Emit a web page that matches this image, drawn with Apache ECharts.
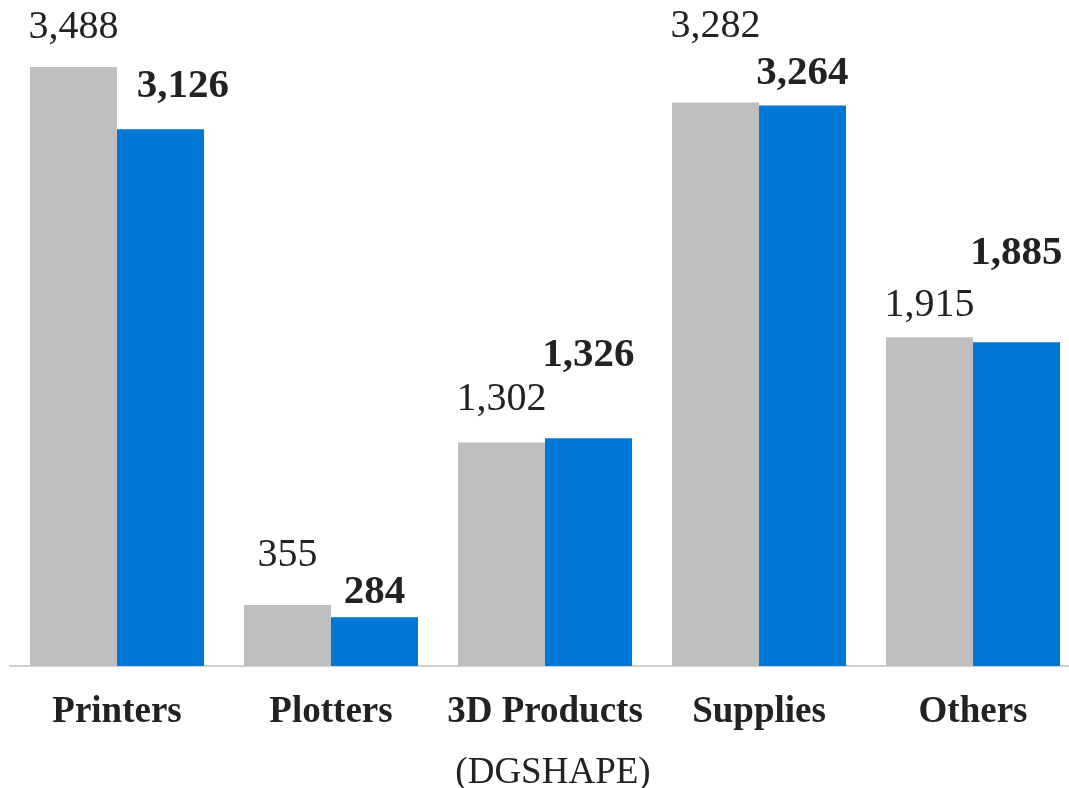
<!DOCTYPE html>
<html>
<head>
<meta charset="utf-8">
<script src="https://cdn.jsdelivr.net/npm/echarts@6/dist/echarts.min.js"></script>
<style>
html,body{margin:0;padding:0;background:#fff;}
#chart{width:1069px;height:788px;}
</style>
</head>
<body>
<div id="chart"></div>
<script>
const categories = ['Printers', 'Plotters', '3D Products', 'Supplies', 'Others'];
const previousValues = [3488, 355, 1302, 3282, 1915];
const currentValues = [3126, 284, 1326, 3264, 1885];
// label offsets [x, y] relative to default top position
const previousLabelOffsets = [[0, -19.5], [0, -30], [0, -22.5], [0, -55.5], [0, -12]];
const currentLabelOffsets = [[22.5, -22], [0, -4], [0, -62], [0, -11.5], [0, -68.5]];

const fmt = v => String(v).replace(/\B(?=(\d{3})+(?!\d))/g, ',');
const FONT = '"Liberation Serif", "Times New Roman", serif';

const chart = echarts.init(document.getElementById('chart'), null, {renderer: 'canvas'});
chart.setOption({
  animation: false,
  backgroundColor: '#ffffff',
  grid: {left: 10, width: 1070, top: 65, height: 601, containLabel: false, outerBoundsMode: 'none'},
  xAxis: {
    type: 'category',
    data: categories,
    axisLine: {lineStyle: {color: '#d0d0d0', width: 2}},
    axisTick: {show: false},
    axisLabel: {
      interval: 0,
      margin: 16,
      color: '#222222',
      fontFamily: FONT,
      fontSize: 37,
      lineHeight: 61,
      formatter: function (v) {
        if (v === '3D Products') return '{a|3D Products}\n{b|(DGSHAPE)}';
        return '{a|' + v + '}';
      },
      rich: {
        a: {fontFamily: FONT, fontSize: 37, fontWeight: 'bold', color: '#222222', lineHeight: 61},
        b: {fontFamily: FONT, fontSize: 37, fontWeight: 'normal', color: '#222222', lineHeight: 61, padding: [0, 0, 0, 16]}
      }
    }
  },
  yAxis: {
    type: 'value',
    min: 0,
    max: 3500,
    show: false,
    splitLine: {show: false}
  },
  series: [
    {
      name: 'Previous',
      type: 'bar',
      barGap: '0%',
      barCategoryGap: '18.7%',
      itemStyle: {color: '#bfbfbf'},
      data: previousValues.map((v, i) => ({
        value: v,
        label: {offset: previousLabelOffsets[i]}
      })),
      label: {
        show: true,
        position: 'top',
        distance: 0,
        fontFamily: FONT,
        fontSize: 40,
        color: '#222222',
        formatter: p => fmt(p.value)
      }
    },
    {
      name: 'Current',
      type: 'bar',
      barGap: '0%',
      barCategoryGap: '18.7%',
      itemStyle: {color: '#0078d7'},
      data: currentValues.map((v, i) => ({
        value: v,
        label: {offset: currentLabelOffsets[i]}
      })),
      label: {
        show: true,
        position: 'top',
        distance: 0,
        fontFamily: FONT,
        fontSize: 41,
        fontWeight: 'bold',
        color: '#222222',
        formatter: p => fmt(p.value)
      }
    }
  ]
});
</script>
</body>
</html>
